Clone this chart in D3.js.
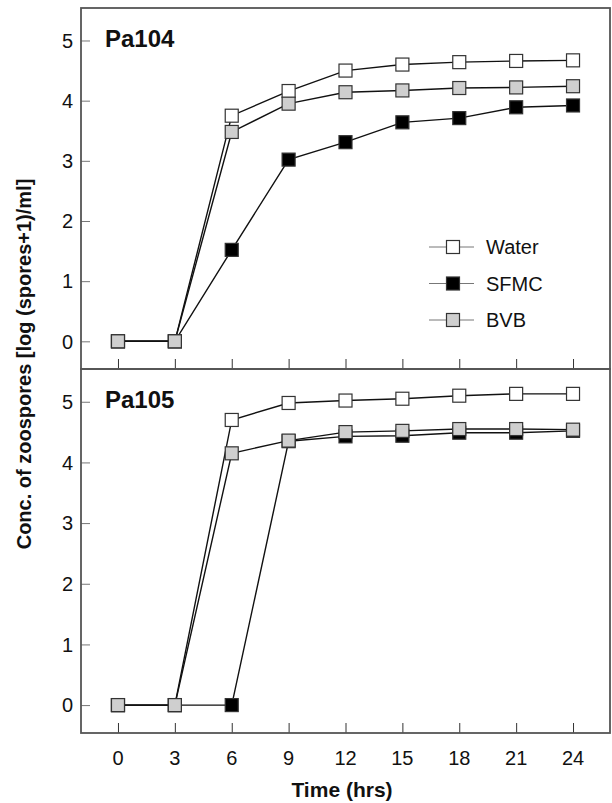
<html>
<head>
<script src="https://cdn.jsdelivr.net/npm/d3@7"></script>
<style>
  body { margin: 0; background: #fff; }
  text { font-family: "Liberation Sans", Arial, sans-serif; fill: #111; }
</style>
</head>
<body>
<div id="chart"></div>
<script>
// sampling times (hrs)
var hours = [0, 3, 6, 9, 12, 15, 18, 21, 24];
var seriesNames = ["Water", "SFMC", "BVB"];

// Pa104 panel
var pa104Water = [0, 0, 3.75, 4.16, 4.50, 4.60, 4.64, 4.66, 4.67];
var pa104SFMC  = [0, 0, 1.52, 3.02, 3.31, 3.64, 3.71, 3.89, 3.92];
var pa104BVB   = [0, 0, 3.48, 3.95, 4.14, 4.17, 4.21, 4.22, 4.24];

// Pa105 panel
var pa105Water = [0, 0, 4.70, 4.98, 5.02, 5.05, 5.10, 5.13, 5.13];
var pa105SFMC  = [0, 0, 0, 4.35, 4.43, 4.44, 4.49, 4.49, 4.52];
var pa105BVB   = [0, 0, 4.15, 4.36, 4.50, 4.52, 4.55, 4.55, 4.54];

var yTicks = [0, 1, 2, 3, 4, 5];

var width = 612, height = 803;
var left = 81, right = 610;

var panels = [
  { name: "Pa104", top: 8, bottom: 369, data: [pa104Water, pa104SFMC, pa104BVB], legend: true },
  { name: "Pa105", top: 369, bottom: 733, data: [pa105Water, pa105SFMC, pa105BVB], legend: false }
];

var fills = { "Water": "#fff", "SFMC": "#000", "BVB": "#cfcfcf" };

var svg = d3.select("#chart").append("svg")
    .attr("width", width)
    .attr("height", height);

var x = d3.scaleLinear().domain([-1.95, 25.95]).range([left, right]);
var markSize = 13;

panels.forEach(function(p) {
  var y = d3.scaleLinear().domain([-0.46, 5.54]).range([p.bottom, p.top]);
  var g = svg.append("g");

  // y axis ticks (inward) + labels
  g.append("g")
    .attr("transform", "translate(" + left + ",0)")
    .call(d3.axisRight(y).tickValues(yTicks).tickSize(9).tickFormat(""))
    .call(function(a) {
      a.select(".domain").remove();
      a.selectAll("line").attr("stroke", "#777").attr("stroke-width", 1);
    });
  g.selectAll(".ylab")
    .data(yTicks)
    .enter().append("text")
    .attr("x", left - 8)
    .attr("y", function(d) { return y(d); })
    .attr("dy", "0.36em")
    .attr("text-anchor", "end")
    .style("font-size", "20px")
    .text(function(d) { return d; });

  // x ticks (inward, upward)
  g.append("g")
    .attr("transform", "translate(0," + p.bottom + ")")
    .call(d3.axisTop(x).tickValues(hours).tickSize(10).tickFormat(""))
    .call(function(a) {
      a.select(".domain").remove();
      a.selectAll("line").attr("stroke", "#333").attr("stroke-width", 1);
    });

  // frame
  g.append("rect")
    .attr("x", left).attr("y", p.top)
    .attr("width", right - left).attr("height", p.bottom - p.top)
    .attr("fill", "none").attr("stroke", "#555").attr("stroke-width", 1.8);

  // panel title
  g.append("text")
    .attr("x", 105).attr("y", p.top + 39)
    .style("font-size", "24px").style("font-weight", "bold")
    .text(p.name);

  var line = d3.line()
    .x(function(d, i) { return x(hours[i]); })
    .y(function(d) { return y(d); });

  p.data.forEach(function(vals, k) {
    var name = seriesNames[k];
    g.append("path")
      .datum(vals)
      .attr("d", line)
      .attr("fill", "none")
      .attr("stroke", "#111")
      .attr("stroke-width", 1.4);
    g.selectAll(".m" + k)
      .data(vals)
      .enter().append("rect")
      .attr("class", "m" + k)
      .attr("x", function(d, i) { return x(hours[i]) - markSize / 2; })
      .attr("y", function(d) { return y(d) - markSize / 2; })
      .attr("width", markSize).attr("height", markSize)
      .attr("fill", fills[name])
      .attr("stroke", "#333")
      .attr("stroke-width", 1.2);
  });

  if (p.legend) {
    var lg = svg.append("g").selectAll("g")
      .data(seriesNames)
      .enter().append("g")
      .attr("transform", function(d, i) { return "translate(429," + (247 + i * 36.5) + ")"; });
    lg.append("line")
      .attr("x1", 0).attr("x2", 45)
      .attr("stroke", "#777").attr("stroke-width", 1);
    lg.append("rect")
      .attr("x", 24 - markSize / 2).attr("y", -markSize / 2)
      .attr("width", markSize).attr("height", markSize)
      .attr("fill", function(d) { return fills[d]; })
      .attr("stroke", "#333").attr("stroke-width", 1.2);
    lg.append("text")
      .attr("x", 57).attr("dy", "0.36em")
      .style("font-size", "20px")
      .text(function(d) { return d; });
  }
});

// x tick labels under the lower panel
svg.append("g").selectAll("text")
  .data(hours)
  .enter().append("text")
  .attr("x", function(d) { return x(d); })
  .attr("y", 765)
  .attr("text-anchor", "middle")
  .style("font-size", "20px")
  .text(function(d) { return d; });

svg.append("text")
  .attr("x", 342).attr("y", 797)
  .attr("text-anchor", "middle")
  .style("font-size", "21px").style("font-weight", "bold")
  .text("Time (hrs)");

svg.append("text")
  .attr("transform", "translate(31,364) rotate(-90)")
  .attr("text-anchor", "middle")
  .style("font-size", "20px").style("font-weight", "bold")
  .text("Conc. of zoospores [log (spores+1)/ml]");
</script>
</body>
</html>
